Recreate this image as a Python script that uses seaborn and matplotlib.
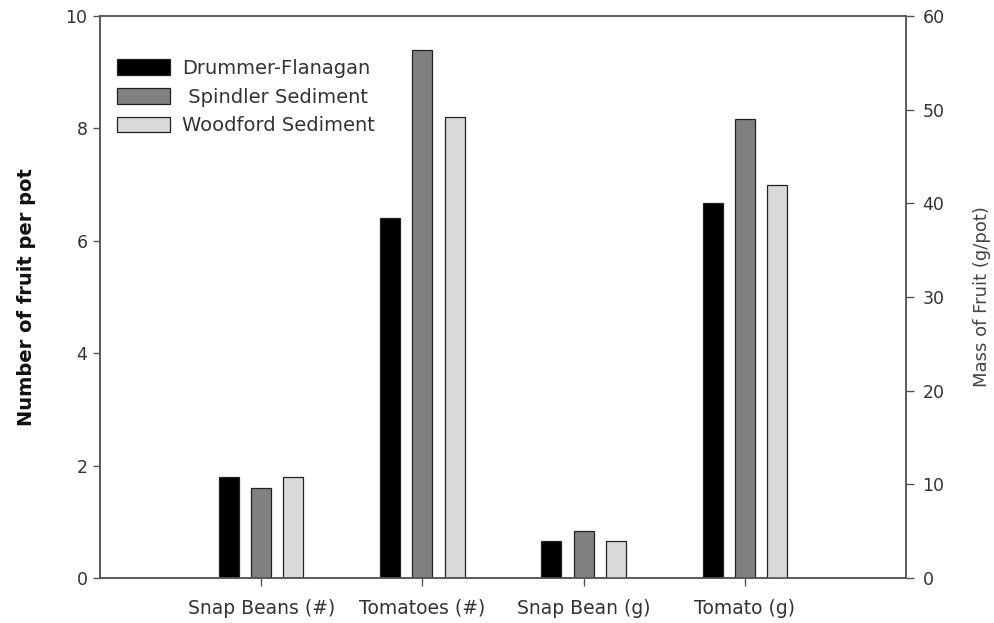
import numpy as np
import pandas as pd
import matplotlib.pyplot as plt
import seaborn as sns

categories = ['Snap Beans (#)', 'Tomatoes (#)', 'Snap Bean (g)', 'Tomato (g)']
soils = ['Drummer-Flanagan', ' Spindler Sediment', 'Woodford Sediment']
drummer = [1.8, 6.4, 4.0, 40.0]
spindler = [1.6, 9.4, 5.0, 49.0]
woodford = [1.8, 8.2, 4.0, 42.0]
colors = ['#000000', '#808080', '#d9d9d9']

df = pd.DataFrame({
    'category': categories * 3,
    'soil': np.repeat(soils, len(categories)),
    'value': drummer + spindler + woodford,
})
# first two categories are counts (left axis), last two are masses (right axis)
count_df = df[df['category'].isin(categories[:2])]
mass_df = df[df['category'].isin(categories[2:])]

sns.set_style('white')
plt.rcParams['font.family'] = ['DejaVu Sans']
axis_col = '#555555'
text_col = '#333333'

fig = plt.figure(figsize=(9.95, 6.23), dpi=100)
ax = fig.add_axes([0.1005, 0.0722, 0.81, 0.902])
ax2 = ax.twinx()

bar_kw = dict(x='category', y='value', hue='soil', order=categories, hue_order=soils,
              palette=colors, width=0.6, gap=0.38, edgecolor='#222222', linewidth=0.9,
              errorbar=None, legend=False)
sns.barplot(data=count_df, ax=ax, **bar_kw)
sns.barplot(data=mass_df, ax=ax2, **bar_kw)

ax.set_xlim(-1, 4)
ax.set_ylim(0, 10)
ax2.set_ylim(0, 60)
ax.set_yticks([0, 2, 4, 6, 8, 10])
ax2.set_yticks([0, 10, 20, 30, 40, 50, 60])
ax.set_xticks(range(len(categories)))
ax.set_xticklabels(categories)
ax.set_xlabel('')
ax2.set_xlabel('')

ax.set_ylabel('Number of fruit per pot', fontsize=14, fontweight='bold', color='#111111', labelpad=21)
ax2.set_ylabel('Mass of Fruit (g/pot)', fontsize=13, color='#444444', labelpad=20)

for a in (ax, ax2):
    for s in a.spines.values():
        s.set_color(axis_col)
        s.set_linewidth(1.1)
ax.tick_params(axis='y', direction='out', length=5, width=1, color=axis_col,
               labelsize=12.5, labelcolor=text_col, left=True, pad=4)
ax.tick_params(axis='x', direction='out', length=6, width=1, color=axis_col,
               labelsize=13.5, labelcolor=text_col, bottom=True, pad=9)
ax2.tick_params(axis='y', direction='out', length=6, width=1, color=axis_col,
                labelsize=12.5, labelcolor=text_col, right=True, pad=6)

handles = [plt.Rectangle((0, 0), 1, 1, facecolor=c, edgecolor='#222222', linewidth=0.9) for c in colors]
ax2.legend(handles, soils, loc='upper left', bbox_to_anchor=(0.0, 0.955), frameon=False,
           fontsize=14, handlelength=2.7, handleheight=0.85, handletextpad=0.6,
           labelspacing=0.5, labelcolor=text_col, borderaxespad=0.5)

fig.savefig('out.png', dpi=100)
